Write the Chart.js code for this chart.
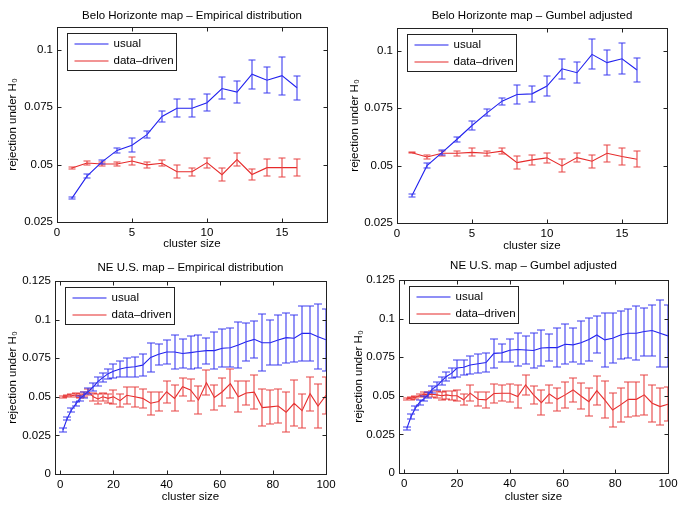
<!DOCTYPE html>
<html>
<head>
<meta charset="utf-8">
<script src="https://cdn.jsdelivr.net/npm/chart.js@4.4.1/dist/chart.umd.min.js"></script>
<style>
  html, body { margin: 0; padding: 0; background: #fff; }
  #wrap { position: relative; width: 685px; height: 508px; overflow: hidden; }
  canvas { position: absolute; }
</style>
</head>
<body>
<div id="wrap">
  <canvas id="c0" width="342" height="254" style="left:0;top:0"></canvas>
  <canvas id="c1" width="343" height="254" style="left:342px;top:0"></canvas>
  <canvas id="c2" width="342" height="254" style="left:0;top:254px"></canvas>
  <canvas id="c3" width="343" height="254" style="left:342px;top:254px"></canvas>
</div>
<script>
// ---- data ----
const titles = [
  "Belo Horizonte map – Empirical distribution",
  "Belo Horizonte map – Gumbel adjusted",
  "NE U.S. map – Empirical distribution",
  "NE U.S. map – Gumbel adjusted"
];
const seriesNames = ["usual", "data–driven"];
const xTitle = "cluster size";
const yTitle = "rejection under H₀";

const bhXTicks = [0, 5, 10, 15];
const bhYTicks = [0.025, 0.05, 0.075, 0.1];
const neXTicks = [0, 20, 40, 60, 80, 100];
const neYTicks = [0, 0.025, 0.05, 0.075, 0.1, 0.125];

const bhSizes = [1, 2, 3, 4, 5, 6, 7, 8, 9, 10, 11, 12, 13, 14, 15, 16];

const bhEmpUsual    = [0.0354, 0.045, 0.0512, 0.0562, 0.0585, 0.0631, 0.071, 0.0746, 0.0746, 0.077, 0.0832, 0.0816, 0.0894, 0.0868, 0.0888, 0.0835];
const bhEmpUsualErr = [0.0005, 0.001, 0.001, 0.001, 0.003, 0.0015, 0.0025, 0.004, 0.004, 0.0037, 0.0048, 0.0048, 0.0064, 0.0056, 0.0083, 0.0053];
const bhEmpDd       = [0.0485, 0.0507, 0.0503, 0.0503, 0.0516, 0.0499, 0.0506, 0.0469, 0.0469, 0.0509, 0.0456, 0.0522, 0.0457, 0.0487, 0.0487, 0.0487];
const bhEmpDdErr    = [0.0003, 0.0008, 0.001, 0.001, 0.0018, 0.0012, 0.0013, 0.0028, 0.0018, 0.0022, 0.0028, 0.0028, 0.0026, 0.0036, 0.0042, 0.0038];

const bhGumUsual    = [0.037, 0.05, 0.0557, 0.0615, 0.0675, 0.073, 0.0781, 0.081, 0.0813, 0.0847, 0.0922, 0.0905, 0.0985, 0.0949, 0.0966, 0.0917];
const bhGumUsualErr = [0.0005, 0.001, 0.001, 0.001, 0.0018, 0.0015, 0.0015, 0.0043, 0.0035, 0.0045, 0.0045, 0.0045, 0.0065, 0.0055, 0.0068, 0.0053];
const bhGumDd       = [0.0556, 0.0538, 0.0554, 0.0554, 0.0558, 0.0554, 0.0563, 0.0513, 0.0525, 0.0534, 0.0499, 0.0535, 0.0519, 0.0554, 0.054, 0.0528];
const bhGumDdErr    = [0.0003, 0.0008, 0.001, 0.001, 0.0018, 0.001, 0.0013, 0.0028, 0.002, 0.0022, 0.0028, 0.0018, 0.0028, 0.0036, 0.0037, 0.0035];

const neSizes = [1, 2.6, 4.2, 5.8, 7.4, 9, 10.6, 12.4, 14.2, 16, 18, 20, 22.5, 25, 28, 31, 34, 37, 40, 43, 46, 49,
                 52, 55, 58, 61, 64, 67, 70, 73, 76, 79, 82, 85, 88, 91, 94, 97, 100];

const neEmpUsual    = [0.0285, 0.036, 0.0415, 0.0453, 0.049, 0.0512, 0.0535, 0.0565, 0.06, 0.0624, 0.065, 0.0665, 0.068,
                       0.069, 0.0695, 0.0705, 0.0755, 0.0775, 0.079, 0.079, 0.078, 0.0786, 0.0793, 0.0799, 0.0799, 0.0814,
                       0.0818, 0.0835, 0.0857, 0.0872, 0.085, 0.085, 0.0868, 0.0883, 0.0879, 0.0911, 0.0911, 0.0889, 0.0869];
const neEmpUsualErr = [0.001, 0.0012, 0.0013, 0.0014, 0.0016, 0.0018, 0.002, 0.0025, 0.0027, 0.003, 0.0032, 0.0045, 0.005,
                       0.006, 0.0065, 0.007, 0.0095, 0.0068, 0.0075, 0.011, 0.0095, 0.0108, 0.0108, 0.0084, 0.0119, 0.0124,
                       0.0126, 0.0151, 0.0124, 0.0119, 0.0184, 0.0146, 0.0162, 0.0162, 0.0151, 0.0178, 0.018, 0.021, 0.02];
const neEmpDd       = [0.05, 0.0505, 0.0507, 0.0512, 0.0507, 0.0516, 0.0533, 0.05, 0.0486, 0.05, 0.049, 0.05, 0.0475,
                       0.051, 0.05, 0.049, 0.0458, 0.047, 0.0533, 0.049, 0.0565, 0.0544, 0.0479, 0.0591, 0.0496, 0.0533,
                       0.0585, 0.05, 0.0525, 0.053, 0.043, 0.0435, 0.044, 0.04, 0.0458, 0.041, 0.052, 0.044, 0.051];
const neEmpDdErr    = [0.0008, 0.0009, 0.001, 0.0012, 0.0014, 0.0016, 0.002, 0.0025, 0.003, 0.0025, 0.003, 0.0045, 0.004,
                       0.0055, 0.0065, 0.006, 0.0075, 0.006, 0.007, 0.0085, 0.006, 0.007, 0.009, 0.008, 0.008, 0.009,
                       0.0095, 0.01, 0.008, 0.011, 0.012, 0.011, 0.011, 0.013, 0.015, 0.011, 0.011, 0.0145, 0.012];

const neGumUsual    = [0.0291, 0.0366, 0.042, 0.0457, 0.048, 0.0506, 0.0543, 0.0565, 0.0597, 0.0625, 0.0647, 0.068, 0.0685,
                       0.07, 0.0708, 0.0715, 0.0775, 0.0778, 0.0795, 0.08, 0.0797, 0.0793, 0.081, 0.0812, 0.0812, 0.0834,
                       0.083, 0.0844, 0.0865, 0.0894, 0.0862, 0.0873, 0.0894, 0.0905, 0.0905, 0.0916, 0.0923, 0.0905, 0.0888];
const neGumUsualErr = [0.001, 0.0014, 0.0015, 0.0015, 0.0016, 0.0018, 0.0022, 0.0025, 0.0027, 0.003, 0.0032, 0.0055, 0.005,
                       0.006, 0.006, 0.0063, 0.0095, 0.006, 0.0075, 0.0108, 0.0092, 0.0116, 0.0116, 0.0089, 0.0124, 0.013,
                       0.011, 0.014, 0.014, 0.012, 0.0176, 0.0162, 0.0155, 0.0157, 0.0175, 0.0155, 0.0167, 0.0216, 0.02];
const neGumDd       = [0.048, 0.0485, 0.049, 0.05, 0.051, 0.0506, 0.051, 0.0506, 0.05, 0.0506, 0.05, 0.05, 0.0474,
                       0.0517, 0.0478, 0.0474, 0.0515, 0.0517, 0.0517, 0.0495, 0.057, 0.0506, 0.0456, 0.0512, 0.0477, 0.0506,
                       0.0538, 0.0499, 0.0462, 0.0533, 0.0473, 0.0408, 0.0441, 0.0477, 0.0477, 0.0506, 0.0452, 0.043, 0.0445];
const neGumDdErr    = [0.0008, 0.0009, 0.001, 0.0011, 0.0013, 0.0015, 0.0018, 0.0022, 0.0025, 0.0028, 0.003, 0.0035, 0.0035,
                       0.005, 0.0045, 0.005, 0.006, 0.005, 0.006, 0.0075, 0.0065, 0.006, 0.008, 0.006, 0.0075, 0.0085,
                       0.008, 0.0085, 0.009, 0.0095, 0.012, 0.011, 0.011, 0.0115, 0.011, 0.013, 0.012, 0.012, 0.011];

// ---- styling / layout ----
const FONT = "'Liberation Sans', Arial, Helvetica, sans-serif";
const FS = 11.5;
const BLUE = "#2020ee", BLUE_BAR = "#3c3cf0";
const RED = "#e62a2a", RED_BAR = "#e84444";

const panels = [
  { id: "c0", w: 342, h: 254, area: { l: 57, t: 27, r: 327, b: 222 }, titleY: 15.5, xlab: 244, ylab: 13,
    x: bhSizes, usual: bhEmpUsual, usualErr: bhEmpUsualErr, dd: bhEmpDd, ddErr: bhEmpDdErr,
    xr: [0, 18], yr: [0.025, 0.11], xt: bhXTicks, yt: bhYTicks, cap: 3.5 },
  { id: "c1", w: 343, h: 254, area: { l: 55, t: 28, r: 325, b: 223 }, titleY: 15.5, xlab: 246, ylab: 13,
    x: bhSizes, usual: bhGumUsual, usualErr: bhGumUsualErr, dd: bhGumDd, ddErr: bhGumDdErr,
    xr: [0, 18], yr: [0.025, 0.11], xt: bhXTicks, yt: bhYTicks, cap: 3.5 },
  { id: "c2", w: 342, h: 254, area: { l: 55, t: 27, r: 326, b: 220 }, titleY: 13.5, xlab: 243, ylab: 13,
    x: neSizes, usual: neEmpUsual, usualErr: neEmpUsualErr, dd: neEmpDd, ddErr: neEmpDdErr,
    xr: [-2, 100], yr: [0, 0.125], xt: neXTicks, yt: neYTicks, cap: 4 },
  { id: "c3", w: 343, h: 254, area: { l: 57, t: 26, r: 326, b: 219 }, titleY: 12, xlab: 243, ylab: 17,
    x: neSizes, usual: neGumUsual, usualErr: neGumUsualErr, dd: neGumDd, ddErr: neGumDdErr,
    xr: [-2, 100], yr: [0, 0.125], xt: neXTicks, yt: neYTicks, cap: 4 }
];

const errorBars = {
  id: "errbars",
  afterDatasetDraw(chart, args, opts) {
    const ds = chart.data.datasets[args.index];
    if (!ds.err) return;
    const { ctx, chartArea: a } = chart;
    const xs = chart.scales.x, ys = chart.scales.y;
    ctx.save();
    ctx.beginPath();
    ctx.rect(a.left, a.top, a.right - a.left, a.bottom - a.top);
    ctx.clip();
    ctx.strokeStyle = ds.barColor;
    ctx.lineWidth = 1.1;
    ctx.beginPath();
    ds.data.forEach((pt, i) => {
      const px = Math.round(xs.getPixelForValue(pt.x));
      const lo = Math.round(ys.getPixelForValue(pt.y - ds.err[i]));
      const hi = Math.round(ys.getPixelForValue(pt.y + ds.err[i]));
      ctx.moveTo(px, lo); ctx.lineTo(px, hi);
      ctx.moveTo(px - opts.cap, lo); ctx.lineTo(px + opts.cap, lo);
      ctx.moveTo(px - opts.cap, hi); ctx.lineTo(px + opts.cap, hi);
    });
    ctx.stroke();
    ctx.restore();
  }
};

const frame = {
  id: "frame",
  afterDraw(chart) {
    const { ctx, chartArea: a } = chart;
    const L = Math.round(a.left) + 0.5, R = Math.round(a.right) + 0.5;
    const T = Math.round(a.top) + 0.5, B = Math.round(a.bottom) + 0.5;
    ctx.save();
    ctx.strokeStyle = "#222";
    ctx.lineWidth = 1;
    ctx.strokeRect(L, T, R - L, B - T);
    ctx.beginPath();
    chart.scales.x.ticks.forEach(t => {
      const px = Math.round(chart.scales.x.getPixelForValue(t.value)) + 0.5;
      ctx.moveTo(px, B); ctx.lineTo(px, B - 4);
      ctx.moveTo(px, T); ctx.lineTo(px, T + 4);
    });
    chart.scales.y.ticks.forEach(t => {
      const py = Math.round(chart.scales.y.getPixelForValue(t.value)) + 0.5;
      ctx.moveTo(L, py); ctx.lineTo(L + 4, py);
      ctx.moveTo(R, py); ctx.lineTo(R - 4, py);
    });
    ctx.stroke();
    ctx.restore();
  }
};

const boxLegend = {
  id: "boxLegend",
  afterDraw(chart) {
    const { ctx, chartArea: a } = chart;
    const bx = Math.round(a.left) + 10.5, by = Math.round(a.top) + 6.5, bw = 109, bh = 37;
    ctx.save();
    ctx.fillStyle = "#fff";
    ctx.fillRect(bx, by, bw, bh);
    ctx.strokeStyle = "#222";
    ctx.lineWidth = 1;
    ctx.strokeRect(bx, by, bw, bh);
    ctx.restore();
    chart.data.datasets.forEach((ds, i) => {
      const ly = Math.round(by + 10 + i * 17);
      ctx.save();
      ctx.lineWidth = 1.2;
      ctx.strokeStyle = ds.legendColor;
      ctx.beginPath();
      ctx.moveTo(bx + 7, ly);
      ctx.lineTo(bx + 41, ly);
      ctx.stroke();
      ctx.font = FS + "px " + FONT;
      ctx.textBaseline = "middle";
      ctx.fillStyle = "#000";
      ctx.fillText(ds.label, bx + 46, ly);
      ctx.restore();
    });
  }
};

const topTitle = {
  id: "topTitle",
  afterDraw(chart, args, opts) {
    const { ctx, chartArea: a } = chart;
    ctx.save();
    ctx.font = "11.5px " + FONT;
    ctx.fillStyle = "#000";
    ctx.textAlign = "center";
    ctx.textBaseline = "middle";
    ctx.fillText(opts.text, (a.left + a.right) / 2, opts.y);
    ctx.restore();
  }
};

function makeChart(p, k) {
  const lh = FS * 1.2;
  const padLeft = p.ylab - lh / 2;
  const xh = p.xlab + lh / 2 - p.area.b;
  const font = { family: FONT, size: FS };
  new Chart(document.getElementById(p.id), {
    type: "line",
    data: {
      datasets: [
        { label: seriesNames[0], data: p.x.map((v, i) => ({ x: v, y: p.usual[i] })), err: p.usualErr,
          borderColor: BLUE, legendColor: BLUE, barColor: BLUE_BAR, borderWidth: 1.1, pointRadius: 0, tension: 0 },
        { label: seriesNames[1], data: p.x.map((v, i) => ({ x: v, y: p.dd[i] })), err: p.ddErr,
          borderColor: RED, legendColor: RED, barColor: RED_BAR, borderWidth: 1.1, pointRadius: 0, tension: 0 }
      ]
    },
    options: {
      responsive: false,
      animation: false,
      devicePixelRatio: 1,
      layout: { padding: { left: padLeft, top: p.area.t, right: p.w - p.area.r, bottom: p.h - p.area.b - xh } },
      plugins: {
        legend: { display: false },
        tooltip: { enabled: false },
        errbars: { cap: p.cap },
        topTitle: { text: titles[k], y: p.titleY }
      },
      scales: {
        x: {
          type: "linear", min: p.xr[0], max: p.xr[1],
          afterBuildTicks: s => { s.ticks = p.xt.map(v => ({ value: v })); },
          afterFit: s => { s.height = xh; },
          grid: { display: false, drawTicks: false },
          border: { display: false },
          ticks: { color: "#000", font, padding: 4, maxRotation: 0, autoSkip: false, callback: v => String(v) },
          title: { display: true, text: xTitle, color: "#000", font, padding: 0 }
        },
        y: {
          type: "linear", min: p.yr[0], max: p.yr[1],
          afterBuildTicks: s => { s.ticks = p.yt.map(v => ({ value: v })); },
          afterFit: s => { s.width = p.area.l - padLeft; },
          grid: { display: false, drawTicks: false },
          border: { display: false },
          ticks: { color: "#000", font, padding: 4, autoSkip: false, callback: v => String(v) },
          title: { display: true, text: yTitle, color: "#000", font, padding: 0 }
        }
      }
    },
    plugins: [errorBars, frame, boxLegend, topTitle]
  });
}

panels.forEach(makeChart);
</script>
</body>
</html>
